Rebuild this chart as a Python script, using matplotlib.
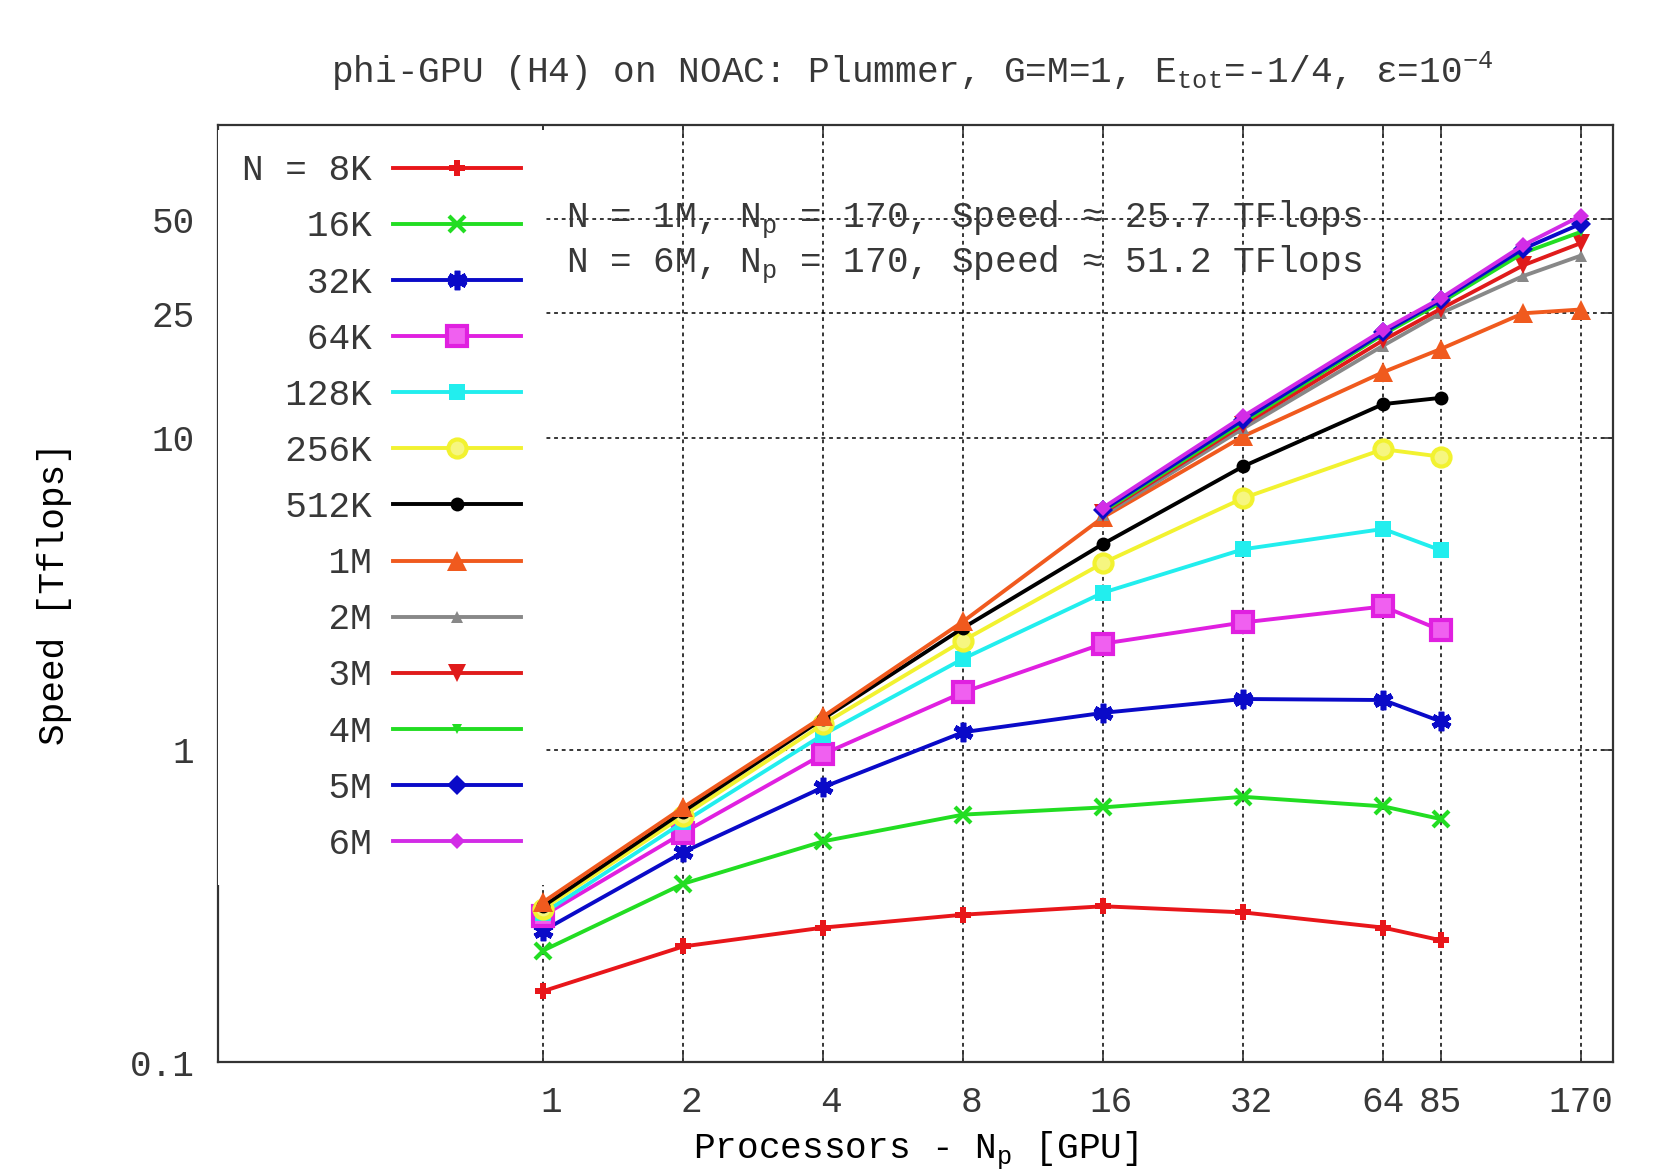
import matplotlib
matplotlib.use("Agg")
from matplotlib import pyplot as plt
import matplotlib.transforms as mtransforms

plt.rcParams['font.family'] = ['Liberation Mono', 'DejaVu Sans Mono']
plt.rcParams['mathtext.fontset'] = 'custom'
plt.rcParams['mathtext.rm'] = 'Liberation Mono'
plt.rcParams['mathtext.it'] = 'Liberation Mono'
plt.rcParams['text.color'] = '#383838'

# processor counts
np_small = [1, 2, 4, 8, 16, 32, 64, 85]
np_1m = [1, 2, 4, 8, 16, 32, 64, 85, 128, 170]
np_big = [16, 32, 64, 85, 128, 170]

# speed in Tflops
speed_8k = [0.169, 0.235, 0.270, 0.297, 0.316, 0.302, 0.270, 0.246]
speed_16k = [0.228, 0.373, 0.510, 0.621, 0.655, 0.708, 0.660, 0.601]
speed_32k = [0.264, 0.471, 0.760, 1.14, 1.315, 1.456, 1.445, 1.235]
speed_64k = [0.295, 0.543, 0.97, 1.53, 2.19, 2.56, 2.88, 2.42]
speed_128k = [0.300, 0.587, 1.12, 1.96, 3.19, 4.39, 5.10, 4.36]
speed_256k = [0.310, 0.615, 1.21, 2.24, 3.97, 6.40, 9.18, 8.69]
speed_512k = [0.316, 0.635, 1.26, 2.46, 4.57, 8.09, 12.8, 13.4]
speed_1m = [0.326, 0.655, 1.28, 2.58, 5.56, 10.1, 16.2, 19.2, 25.0, 25.7]
speed_2m = [5.64, 10.7, 19.7, 25.0, 32.9, 38.2]
speed_3m = [5.74, 11.0, 20.5, 25.8, 35.6, 41.9]
speed_4m = [5.80, 11.2, 21.4, 27.0, 39.0, 45.5]
speed_5m = [5.87, 11.4, 21.7, 27.5, 40.2, 48.3]
speed_6m = [5.97, 11.7, 22.1, 27.9, 41.3, 51.2]

labels = ["N = 8K", "   16K", "   32K", "   64K", "  128K", "  256K",
          "  512K", "    1M", "    2M", "    3M", "    4M", "    5M", "    6M"]

x_ticks = [1, 2, 4, 8, 16, 32, 64, 85, 170]
y_ticks = [0.1, 1, 10, 25, 50]
y_tick_labels = ["0.1", "1", "10", "25", "50"]

series = [
    (np_small, speed_8k, dict(color='#e8161a', marker='P', ms=11, mew=0)),
    (np_small, speed_16k, dict(color='#22dd22', marker='x', ms=11, mew=3)),
    (np_small, speed_32k, dict(color='#0a0ac8', marker=(6, 2, 0), ms=14, mew=4)),
    (np_small, speed_64k, dict(color='#e020e0', marker='s', ms=15, mew=3, mfc='#f060f0')),
    (np_small, speed_128k, dict(color='#22eeee', marker='s', ms=11, mew=0)),
    (np_small, speed_256k, dict(color='#f2f230', marker='o', ms=13, mew=3, mfc='#f6f680')),
    (np_small, speed_512k, dict(color='black', marker='o', ms=10, mew=0)),
    (np_1m, speed_1m, dict(color='#f05a1e', marker='^', ms=14, mew=0)),
    (np_big, speed_2m, dict(color='#888888', marker='^', ms=8, mew=0)),
    (np_big, speed_3m, dict(color='#e01b1b', marker='v', ms=13, mew=0)),
    (np_big, speed_4m, dict(color='#22dd22', marker='v', ms=7, mew=0)),
    (np_big, speed_5m, dict(color='#0a0ac8', marker='D', ms=10, mew=0)),
    (np_big, speed_6m, dict(color='#d22ce6', marker='D', ms=8, mew=0)),
]

FS = 26

fig = plt.figure(figsize=(16.65, 11.7), dpi=100)
ax = fig.add_axes([0.131, 0.092, 0.838, 0.801])

for (xs, ys, st), lab in zip(series, labels):
    ax.plot(xs, ys, lw=2.8, label=lab, **st)

ax.set_xscale('log')
ax.set_yscale('log')
ax.set_xlim(0.2, 200)
ax.set_ylim(0.1, 100)
ax.set_xticks(x_ticks)
ax.set_xticklabels([str(v) for v in x_ticks])
ax.set_yticks(y_ticks)
ax.set_yticklabels(y_tick_labels)
ax.minorticks_off()
ax.tick_params(direction='in', length=9, width=1.2, top=True, right=True,
               labelsize=FS, labelcolor='#383838', color='#333333')
ax.tick_params(axis='y', pad=17)
ax.tick_params(axis='x', pad=16)
# gnuplot puts most x tick labels a little right of their tick
shift = mtransforms.ScaledTranslation(8 / 100, 0, fig.dpi_scale_trans)
for lab in ax.get_xticklabels()[:6]:
    lab.set_transform(lab.get_transform() + shift)
for sp in ax.spines.values():
    sp.set_color('#333333')
    sp.set_linewidth(1.6)

ax.grid(True, color='black', linestyle=(0, (2.5, 2.5)), linewidth=1.1)
ax.set_axisbelow(True)

ax.set_ylabel("Speed [Tflops]", fontsize=FS)
ax.yaxis.set_label_coords(-0.105, 0.5)
ax.set_xlabel(r"Processors - N$_\mathrm{p}$ [GPU]", fontsize=FS)
ax.xaxis.set_label_coords(0.5, -0.072)

fig.text(0.548, 1 - 71 / 1170,
         r"phi-GPU (H4) on NOAC: Plummer, G=M=1, E$_\mathrm{tot}$=-1/4, ε=10$^{-4}$",
         ha='center', va='center', fontsize=FS)

ax.text(0.249, 0.900, r"N = 1M, N$_\mathrm{p}$ = 170, Speed ≈ 25.7 TFlops",
        transform=ax.transAxes, fontsize=FS, va='center', ha='left')
ax.text(0.249, 0.852, r"N = 6M, N$_\mathrm{p}$ = 170, Speed ≈ 51.2 TFlops",
        transform=ax.transAxes, fontsize=FS, va='center', ha='left')

leg = ax.legend(loc='upper left', bbox_to_anchor=(0, 0.995), borderaxespad=0,
                borderpad=0.65, markerfirst=False, handlelength=3.55,
                handletextpad=0.6, labelspacing=0.585, fontsize=FS,
                frameon=True, fancybox=False, numpoints=1)
leg.get_frame().set_facecolor('white')
leg.get_frame().set_edgecolor('none')
leg.get_frame().set_alpha(1)

fig.savefig("out.png", dpi=100)
